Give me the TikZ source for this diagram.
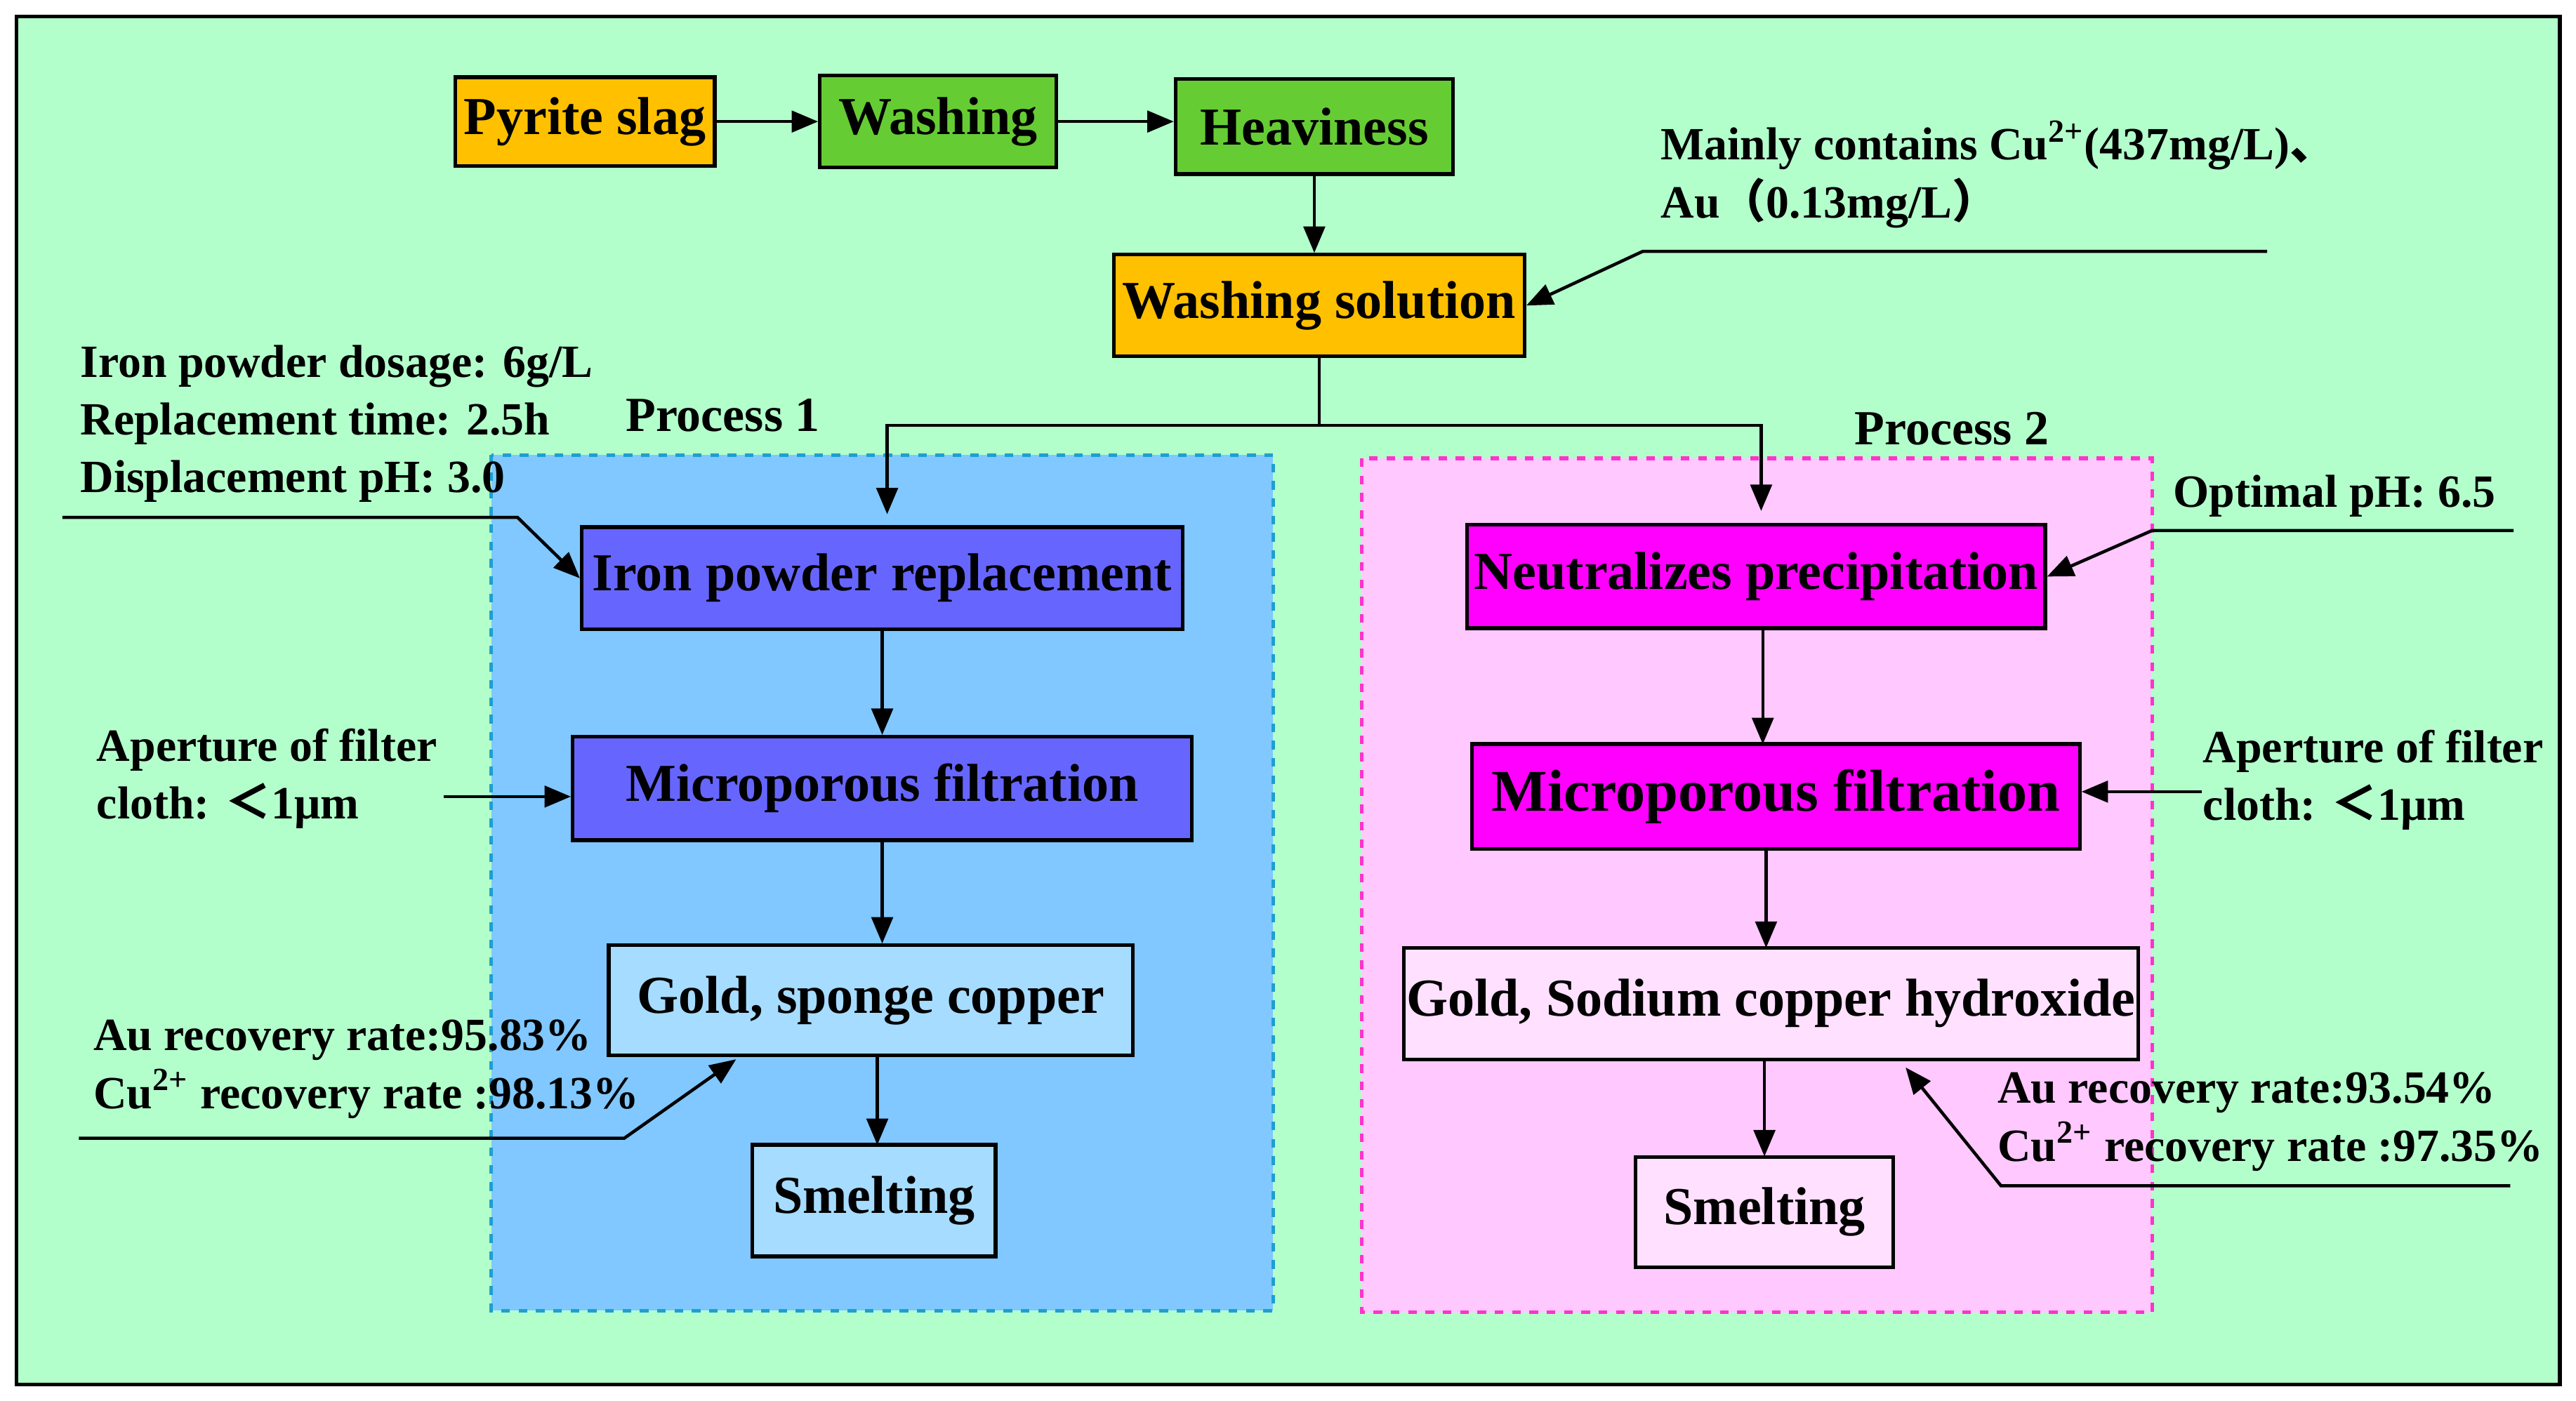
\documentclass[tikz,border=0pt]{standalone}
\usepackage{fontspec}
\setmainfont{Liberation Serif}
\newfontfamily\cjkfont{Noto Sans CJK SC}
\usetikzlibrary{arrows, positioning}
\definecolor{bggreen}{HTML}{B3FFCC}
\definecolor{slag}{HTML}{FFC000}
\definecolor{wash}{HTML}{66CC33}
\definecolor{blueproc}{HTML}{80C8FF}
\definecolor{blueedge}{HTML}{1E9FD0}
\definecolor{pinkproc}{HTML}{FFC8FF}
\definecolor{pinkedge}{HTML}{FF33CC}
\definecolor{violetbox}{HTML}{6666FF}
\definecolor{magbox}{HTML}{FF00FF}
\definecolor{lightbox}{HTML}{A6DCFF}
\definecolor{lightpink}{HTML}{FFE0FF}
\newcommand{\fw}[1]{{\cjkfont #1}}
\begin{document}
\begin{tikzpicture}[
            x = 0.02cm, y = -0.02cm, % reference pixels
            > = triangle 45, % arrow head style
            line width = 1.1pt,
            box/.style = {draw = black, line width = 1.3pt, font = \fontsize{18.5}{21}\selectfont\bfseries, inner sep = 0pt, align = center},
            note/.style = {font = \fontsize{16}{18}\selectfont\bfseries, align = left, anchor = west, inner sep = 0pt}
        ]
        \useasboundingbox (0,0) rectangle (1568,853);

        % background and process frames
        \draw[line width = 1.4pt, fill = bggreen] (10,10) rectangle (1558,843);
        \draw[blueedge, line width = 1.3pt, dashed, fill = blueproc] (299,277) rectangle (775,798);
        \draw[pinkedge, line width = 1.3pt, dashed, fill = pinkproc] (829,279) rectangle (1310,799);
        \node[note, anchor = center, font = \fontsize{17}{19}\selectfont\bfseries] (P1) at (440,253) {Process 1};
        \node[note, anchor = center, font = \fontsize{17}{19}\selectfont\bfseries] (P2) at (1188,261) {Process 2};

        % main line
        \node[box, fill = slag, minimum width = 3.16cm, minimum height = 1.08cm] (slag) at (356,74) {Pyrite slag};
        \node[box, fill = wash, minimum width = 2.88cm, minimum height = 1.12cm] (wash) at (571,74) {Washing};
        \node[box, fill = wash, minimum width = 3.38cm, minimum height = 1.16cm] (heavy) at (800,77) {Heaviness};
        \node[box, fill = slag, minimum width = 5.0cm, minimum height = 1.24cm] (sol) at (803,186) {Washing solution};

        % process 1
        \node[box, fill = violetbox, minimum width = 7.32cm, minimum height = 1.24cm] (iron) at (537,352) {Iron powder replacement};
        \node[box, fill = violetbox, minimum width = 7.54cm, minimum height = 1.26cm] (mf1) at (537,480) {Microporous filtration};
        \node[box, fill = lightbox, minimum width = 6.38cm, minimum height = 1.34cm] (gold1) at (530,609) {Gold, sponge copper};
        \node[box, fill = lightbox, minimum width = 2.96cm, minimum height = 1.36cm] (smelt1) at (532,731) {Smelting};

        % process 2
        \node[box, fill = magbox, minimum width = 7.04cm, minimum height = 1.26cm] (neut) at (1069,351) {Neutralizes precipitation};
        \node[box, fill = magbox, minimum width = 7.4cm, minimum height = 1.28cm, font = \fontsize{20.5}{23}\selectfont\bfseries] (mf2) at (1081,485) {Microporous filtration};
        \node[box, fill = lightpink, minimum width = 8.94cm, minimum height = 1.36cm] (gold2) at (1078,611) {Gold, Sodium copper hydroxide};
        \node[box, fill = lightpink, minimum width = 3.14cm, minimum height = 1.34cm] (smelt2) at (1074,738) {Smelting};

        % notes
        \node[note] (n0) at (1010,106) {Mainly contains Cu\textsuperscript{2+}(437mg/L)\fw{、}\\[2pt]Au\fw{（}0.13mg/L\fw{）}};
        \node[note] (n1) at (48,258) {Iron powder dosage: 6g/L\\[2pt]Replacement time: 2.5h\\[2pt]Displacement pH: 3.0};
        \node[note] (n2) at (58,474) {Aperture of filter\\[2pt]cloth: \fw{＜}1μm};
        \node[note] (n3) at (56,651) {Au recovery rate:95.83\%\\[2pt]Cu\textsuperscript{2+} recovery rate :98.13\%};
        \node[note] (n4) at (1322,302) {Optimal pH: 6.5};
        \node[note] (n5) at (1340,475) {Aperture of filter\\[2pt]cloth: \fw{＜}1μm};
        \node[note] (n6) at (1215,683) {Au recovery rate:93.54\%\\[2pt]Cu\textsuperscript{2+} recovery rate :97.35\%};

        \coordinate (c0) at (1380,153);  \coordinate (c0b) at (1000,153);
        \coordinate (c1) at (38,315);    \coordinate (c1b) at (315,315);
        \coordinate (c2) at (270,485);
        \coordinate (c3) at (48,693);    \coordinate (c3b) at (380,693);
        \coordinate (c4) at (1530,323);  \coordinate (c4b) at (1310,323);
        \coordinate (c5) at (1340,482);
        \coordinate (c6) at (1528,722);  \coordinate (c6b) at (1218,722);
        \coordinate (split) at (803,259);

        % flow
        \draw[->] (slag) -- (wash.west |- slag);
        \draw[->] (wash) -- (heavy.west |- wash);
        \draw[->] (heavy) -- (heavy.south |- sol.north);
        \draw (sol) -- (split);
        \draw[->] (split) -| (540,313);
        \draw[->] (split) -| (1072,311);
        \draw[->] (iron) -- (iron.south |- mf1.north);
        \draw[->] (mf1.south) -- (mf1.south |- gold1.north);
        \draw[->] (534,642) -- (534,697);
        \draw[->] (1073,383) -- (1073,453);
        \draw[->] (1075,517) -- (1075,577);
        \draw[->] (1074,645) -- (1074,704);

        % note leaders
        \draw[->] (c0) -- (c0b) -- (sol.east);
        \draw[->] (c1) -- (c1b) -- (iron.west);
        \draw[->] (c2) -- (mf1.west |- c2);
        \draw[->] (c3) -- (c3b) -- (448,645);
        \draw[->] (c4) -- (c4b) -- (neut.east);
        \draw[->] (c5) -- (mf2.east |- c5);
        \draw[->] (c6) -- (c6b) -- (1160,650);
    \end{tikzpicture}
\end{document}
